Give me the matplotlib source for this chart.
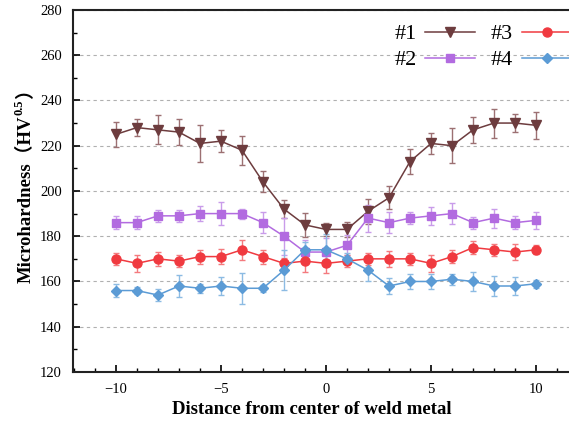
import matplotlib
matplotlib.use('Agg')
import matplotlib.pyplot as plt
import numpy as np
from matplotlib.ticker import MultipleLocator

# distance from weld centre
distance = np.arange(-10, 11)

hv1 = [225, 228, 227, 226, 221, 222, 218, 204, 192, 185, 183, 183, 191, 197, 213, 221, 220, 227, 230, 230, 229]
err1 = [5.5, 3.6, 6.4, 5.9, 8.0, 4.8, 6.4, 4.6, 4.0, 5.3, 2.9, 3.5, 5.6, 5.0, 5.6, 4.6, 7.7, 5.8, 6.4, 3.9, 6.0]

hv2 = [186, 186, 189, 189, 190, 190, 190, 186, 180, 173, 173, 176, 188, 186, 188, 189, 190, 186, 188, 186, 187]
err2 = [3.0, 2.8, 2.6, 2.8, 3.4, 5.2, 2.2, 4.5, 8.2, 5.3, 6.0, 4.5, 6.0, 4.8, 2.8, 3.9, 4.8, 2.6, 4.2, 3.0, 3.7]

hv3 = [170, 168, 170, 169, 171, 171, 174, 171, 168, 169, 168, 169, 170, 170, 170, 168, 171, 175, 174, 173, 174]
err3 = [2.7, 3.6, 3.0, 2.7, 3.1, 3.2, 4.5, 3.1, 2.4, 4.8, 4.1, 2.5, 2.5, 3.6, 2.5, 3.9, 3.0, 2.8, 2.6, 3.7, 2.0]

hv4 = [156, 156, 154, 158, 157, 158, 157, 157, 165, 174, 174, 170, 165, 158, 160, 160, 161, 160, 158, 158, 159]
err4 = [3.0, 1.5, 2.6, 5.0, 2.0, 3.9, 6.9, 1.5, 8.9, 3.3, 7.1, 2.4, 4.7, 3.4, 3.5, 3.5, 2.5, 4.0, 4.5, 3.9, 1.7]

labels = ['#1', '#2', '#3', '#4']
colors = ['#6d3c3e', '#b26be0', '#f03a40', '#5b9bd5']
err_colors = ['#9c7072', '#c99cea', '#f47a7e', '#8cbbe3']
markers = ['v', 's', 'o', 'D']
msizes = [7, 5.5, 6.5, 5.5]

plt.rcParams['font.family'] = ['Liberation Serif', 'Noto Sans CJK SC']
plt.rcParams['mathtext.fontset'] = 'stix'

fig = plt.figure(figsize=(5.69, 4.25), dpi=100)
ax = fig.add_axes([0.128, 0.1247, 0.888, 0.852])

lines = []
for y, e, c, ec, m, ms in zip([hv1, hv2, hv3, hv4], [err1, err2, err3, err4],
                              colors, err_colors, markers, msizes):
    cont = ax.errorbar(distance, y, yerr=e, color=c, ecolor=ec, elinewidth=1.0,
                       capsize=2.5, capthick=1.0, marker=m, markersize=ms,
                       linewidth=1.1, zorder=3)
    lines.append(cont[0])

ax.set_xlim(-12.05, 12.0)
ax.set_ylim(120, 280)
ax.xaxis.set_major_locator(MultipleLocator(5))
ax.xaxis.set_minor_locator(MultipleLocator(1))
ax.yaxis.set_major_locator(MultipleLocator(20))
ax.yaxis.set_minor_locator(MultipleLocator(10))
ax.tick_params(which='major', direction='in', length=5, width=1.2, labelsize=10.5)
ax.tick_params(which='minor', direction='in', length=3, width=1.0)
ax.tick_params(axis='y', pad=8)
ax.tick_params(axis='x', pad=8)

ax.yaxis.grid(True, linestyle=(0, (3, 3)), color='#b0b0b0', linewidth=0.8)
ax.set_axisbelow(True)

for s in ['left', 'bottom', 'top', 'right']:
    ax.spines[s].set_linewidth(1.5)
    ax.spines[s].set_color('#222222')

ax.set_xlabel('Distance from center of weld metal', fontsize=13.5, fontweight='bold')
ax.xaxis.set_label_coords(0.473, -0.08)

# y label in pieces: full-width brackets plus a superscript
t1 = fig.text(0.046, 0.334, 'Microhardness（HV', rotation=90, fontsize=13.5,
              fontweight='bold', ha='center', va='bottom')
sup = ax.annotate('0.5', xy=(0.5, 1), xycoords=t1, xytext=(-5, 0.5),
                  textcoords='offset points', rotation=90, fontsize=9,
                  fontweight='bold', ha='center', va='bottom', annotation_clip=False)
ax.annotate('）', xy=(0.5, 1), xycoords=(t1, sup), xytext=(0, 0.5),
            textcoords='offset points', rotation=90, fontsize=13.5,
            fontweight='bold', ha='center', va='bottom', annotation_clip=False)

ax.legend(lines, labels, ncol=2, loc='upper right', bbox_to_anchor=(572 / 569, 0.944),
          bbox_transform=fig.transFigure, frameon=False, markerfirst=False,
          fontsize=16, handlelength=2.25, handletextpad=0.4, columnspacing=0.7,
          labelspacing=0.25, borderaxespad=0, borderpad=0)

plt.savefig('out.png', dpi=100)
